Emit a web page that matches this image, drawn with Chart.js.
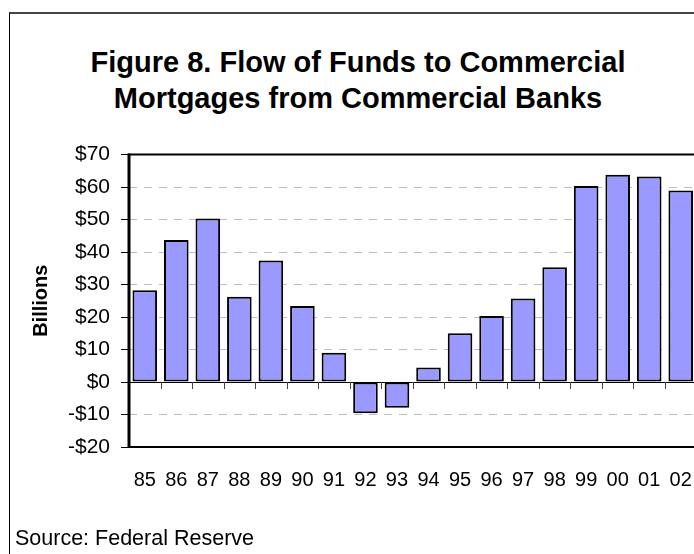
<!DOCTYPE html>
<html>
<head>
<meta charset="utf-8">
<title>Flow of Funds to Commercial Mortgages</title>
<script src="https://cdn.jsdelivr.net/npm/chart.js@4"></script>
<style>
  html, body { margin: 0; padding: 0; overflow: hidden; background: #fff; }
  body { width: 694px; height: 554px; position: relative; font-family: "Liberation Sans", Arial, sans-serif; }
  #frame { position: absolute; left: 9px; top: 12px; width: 800px; height: 800px;
           border-left: 1px solid #000; border-top: 2px solid #444; }
  #title { position: absolute; left: 58px; top: 44px; width: 600px; text-align: center;
           font-weight: bold; font-size: 29px; line-height: 36px; color: #000; }
  #source { position: absolute; left: 15px; top: 526px; font-size: 21.5px; line-height: 24px; color: #000; }
  #chartBox { position: absolute; left: 10px; top: 13px; width: 720px; height: 541px; }
</style>
</head>
<body>
<div id="frame"></div>
<div id="title">Figure 8. Flow of Funds to Commercial<br>Mortgages from Commercial Banks</div>
<div id="chartBox"><canvas id="barChart"></canvas></div>
<div id="source">Source: Federal Reserve</div>

<script>
const years = ["85", "86", "87", "88", "89", "90", "91", "92", "93", "94",
               "95", "96", "97", "98", "99", "00", "01", "02"];
const flows = [28.2, 43.7, 50.3, 26.2, 37.4, 23.4, 9.0, -9.6, -7.9, 4.5,
               15.0, 20.3, 25.7, 35.3, 60.3, 63.8, 63.2, 58.9];
const yMin = -20;
const yMax = 70;
const yStep = 10;

const font = "'Liberation Sans', Arial, sans-serif";

function money(v) {
  return v < 0 ? `-$${Math.abs(v)}` : `$${v}`;
}

// zero line with little category ticks hanging under it, plus the box round the plot
const plotFrame = {
  id: "plotFrame",
  afterDatasetsDraw(chart) {
    const { ctx, chartArea: a, scales: { x, y } } = chart;
    const zero = y.getPixelForValue(0);
    ctx.save();
    ctx.strokeStyle = "#000";
    ctx.lineWidth = 1;
    ctx.beginPath();
    ctx.moveTo(a.left, zero + 0.5);
    ctx.lineTo(a.right, zero + 0.5);
    ctx.stroke();

    ctx.strokeStyle = "#444";
    ctx.beginPath();
    for (let i = 1; i < years.length; i++) {
      const bx = Math.round((x.getPixelForValue(i - 1) + x.getPixelForValue(i)) / 2) + 0.5;
      ctx.moveTo(bx, zero);
      ctx.lineTo(bx, zero + 7);
    }
    ctx.stroke();

    ctx.strokeStyle = "#000";
    ctx.lineWidth = 2;
    ctx.strokeRect(a.left, a.top, a.right - a.left, a.bottom - a.top);
    ctx.lineWidth = 3;
    ctx.beginPath();
    ctx.moveTo(a.left, a.top - 1);
    ctx.lineTo(a.left, a.bottom + 1);
    ctx.stroke();
    ctx.restore();
  },
};

function drawChart() {
  const ctx = document.getElementById("barChart").getContext("2d");
  new Chart(ctx, {
    type: "bar",
    data: {
      labels: years,
      datasets: [
        {
          data: flows,
          backgroundColor: "#9999ff",
          borderColor: "#000",
          borderWidth: 2,
          borderSkipped: false,
          barPercentage: 0.78,
          categoryPercentage: 1,
        },
      ],
    },
    options: {
      responsive: true,
      maintainAspectRatio: false,
      animation: false,
      layout: { padding: { left: 0, right: 33.5, top: 141.5, bottom: 67 } },
      plugins: {
        legend: { display: false },
        tooltip: { enabled: false },
      },
      scales: {
        x: {
          grid: { display: false },
          border: { display: false },
          ticks: {
            color: "#000",
            padding: 13,
            maxRotation: 0,
            autoSkip: false,
            font: { family: font, size: 20 },
          },
          afterFit(scale) {
            scale.height = 40;
          },
        },
        y: {
          min: yMin,
          max: yMax,
          grid: {
            color: (c) => (c.tick && (c.tick.value === 0 || c.tick.value === yMin || c.tick.value === yMax) ? "rgba(0,0,0,0)" : "#bdbdbd"),
            lineWidth: 1,
            tickColor: "#000",
            tickLength: 8,
            tickWidth: 1,
          },
          border: { display: false, dash: [8, 7] },
          ticks: {
            stepSize: yStep,
            color: "#000",
            padding: 11,
            font: { family: font, size: 21 },
            callback: (v) => money(v),
          },
          title: {
            display: true,
            text: "Billions",
            color: "#000",
            padding: { top: 19, bottom: 0 },
            font: { family: font, size: 20, weight: "bold" },
          },
          afterFit(scale) {
            scale.width = 119;
          },
        },
      },
    },
    plugins: [plotFrame],
  });
}

window.onload = drawChart;
</script>
</body>
</html>
